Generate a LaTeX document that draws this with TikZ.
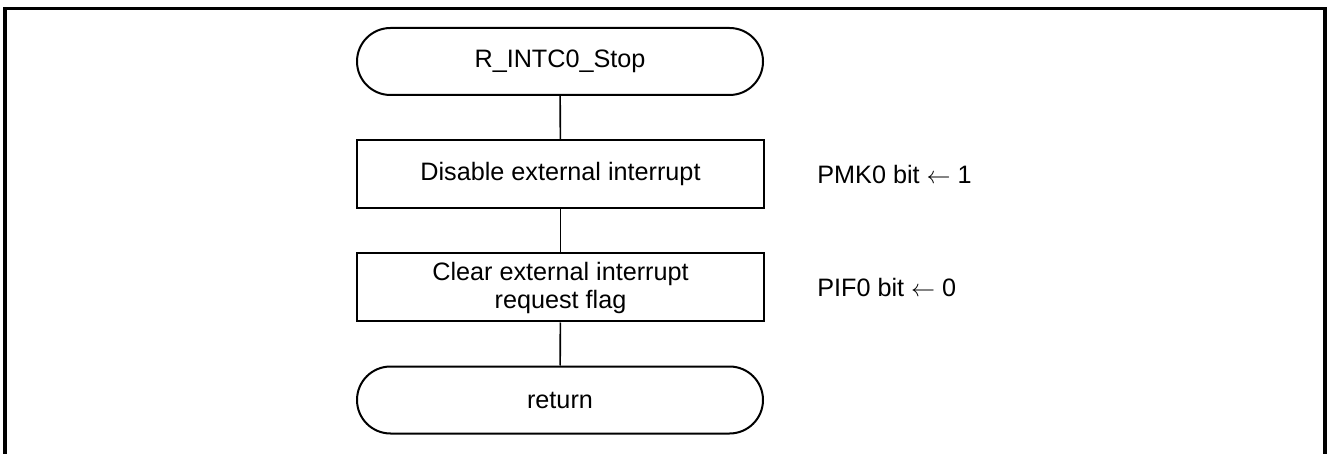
\documentclass[tikz,border=0pt]{standalone}
\usepackage{fontspec}
\setmainfont{Liberation Sans}
\begin{document}
\begin{tikzpicture}[x=0.5pt,y=-0.5pt,
  every node/.style={font=\fontsize{12.6}{14}\selectfont},
  term/.style={draw,line width=1pt,rounded corners=16.75pt,minimum width=203pt,minimum height=33.5pt,inner sep=0pt,align=center},
  proc/.style={draw,line width=1pt,minimum width=203.5pt,minimum height=34pt,inner sep=0pt,align=center},
  note/.style={anchor=west,inner sep=0pt},
  conn/.style={line width=0.8pt}]
\useasboundingbox (0,0) rectangle (1328,454);
\draw[line width=1.6pt] (5,470) -- (5,8.5) -- (1325,8.5) -- (1325,470);
\node[term] (start) at (560,61.5) {R\_INTC0\_Stop};
\node[proc] (p1) at (560.5,174) {Disable external interrupt};
\node[proc] (p2) at (560.5,287.5) {Clear external interrupt\\request flag};
\node[term] (ret) at (560,400) {return};
\node[note] (n1) at (817,174) {PMK0 bit \(\leftarrow\) 1};
\node[note] (n2) at (817,287.5) {PIF0 bit \(\leftarrow\) 0};
\draw[conn] (start) -- (p1);
\draw[conn] (p1) -- (p2);
\draw[conn] (p2) -- (ret);
\end{tikzpicture}
\end{document}
